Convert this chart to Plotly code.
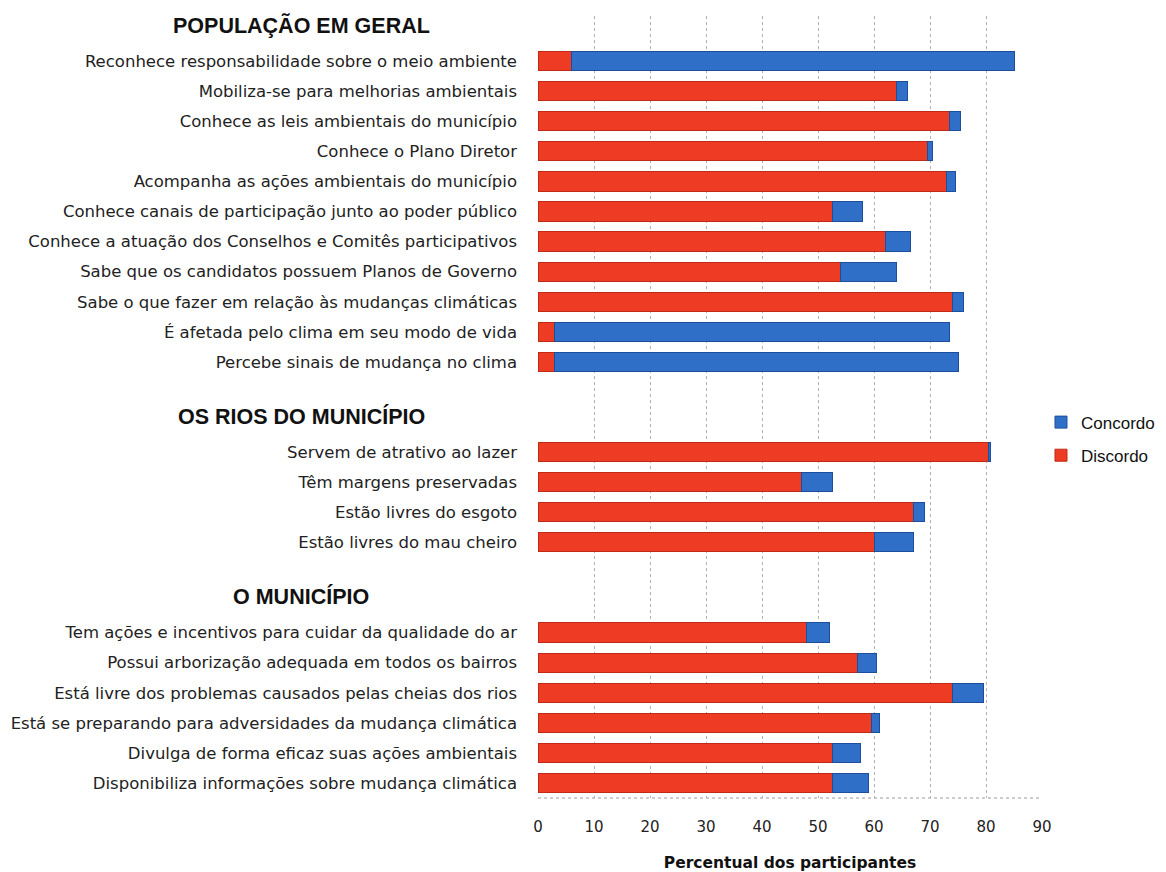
import plotly.graph_objects as go

# Section headers and how many statements each section holds
grupos = ["POPULAÇÃO EM GERAL", "OS RIOS DO MUNICÍPIO", "O MUNICÍPIO"]
grupo_tamanhos = [11, 4, 6]

categorias = [
    "Reconhece responsabilidade sobre o meio ambiente",
    "Mobiliza-se para melhorias ambientais",
    "Conhece as leis ambientais do município",
    "Conhece o Plano Diretor",
    "Acompanha as ações ambientais do município",
    "Conhece canais de participação junto ao poder público",
    "Conhece a atuação dos Conselhos e Comitês participativos",
    "Sabe que os candidatos possuem Planos de Governo",
    "Sabe o que fazer em relação às mudanças climáticas",
    "É afetada pelo clima em seu modo de vida",
    "Percebe sinais de mudança no clima",
    "Servem de atrativo ao lazer",
    "Têm margens preservadas",
    "Estão livres do esgoto",
    "Estão livres do mau cheiro",
    "Tem ações e incentivos para cuidar da qualidade do ar",
    "Possui arborização adequada em todos os bairros",
    "Está livre dos problemas causados pelas cheias dos rios",
    "Está se preparando para adversidades da mudança climática",
    "Divulga de forma eficaz suas ações ambientais",
    "Disponibiliza informações sobre mudança climática",
]
discordo = [6, 64, 73.5, 69.5, 73, 52.5, 62, 54, 74, 3, 3,
            80.5, 47, 67, 60,
            48, 57, 74, 59.5, 52.5, 52.5]
concordo = [79, 2, 2, 1, 1.5, 5.5, 4.5, 10, 2, 70.5, 72,
            0.3, 5.5, 2, 7,
            4, 3.5, 5.5, 1.5, 5, 6.5]
x_ticks = [0, 10, 20, 30, 40, 50, 60, 70, 80, 90]

# Row layout: header row, statement rows, blank spacer row between sections
y_pos, header_pos = [], []
slot = 0
for n in grupo_tamanhos:
    header_pos.append(slot)
    slot += 1
    for _ in range(n):
        y_pos.append(slot)
        slot += 1
    slot += 1
last_row = max(y_pos)

RED, RED_EDGE = "#ee3b24", "#c02a17"
BLUE, BLUE_EDGE = "#2f6fc8", "#1d4e9c"
LABEL_FONT = "DejaVu Sans, Verdana, sans-serif"

fig = go.Figure()
fig.add_trace(go.Bar(
    name="Discordo", y=y_pos, x=discordo, orientation="h",
    marker=dict(color=RED, line=dict(color=RED_EDGE, width=1)),
    width=0.64, legendgroup="d", legendrank=2,
))
fig.add_trace(go.Bar(
    name="Concordo", y=y_pos, x=concordo, orientation="h",
    marker=dict(color=BLUE, line=dict(color=BLUE_EDGE, width=1)),
    width=0.64, legendgroup="c", legendrank=1,
))

L, R, T, B = 538, 124, 16, 74
plot_w = 1166 - L - R
for g, p in zip(grupos, header_pos):
    fig.add_annotation(
        text=f"<b>{g}</b>", xref="paper", yref="y",
        x=(301 - L) / plot_w, y=p - 0.2, showarrow=False,
        xanchor="center", yanchor="middle",
        font=dict(family="Liberation Sans, Arial", size=21.5, color="#111111"),
    )

# dotted floor line along the bottom of the plot area
fig.add_shape(type="line", xref="paper", yref="paper", x0=0, x1=1, y0=0, y1=0,
              line=dict(color="#9a9a9a", width=1, dash="dot"))

fig.update_layout(
    width=1166, height=872,
    margin=dict(l=L, r=R, t=T, b=B, autoexpand=False),
    barmode="stack",
    paper_bgcolor="white", plot_bgcolor="white",
    font=dict(family=LABEL_FONT, color="#222222"),
    legend=dict(
        x=0.998, y=0.459, xanchor="left", yanchor="middle",
        traceorder="grouped",
        font=dict(family="Liberation Sans, Arial", size=17, color="#111111"),
        itemwidth=30, tracegroupgap=8,
    ),
    xaxis=dict(
        range=[0, 90], tickvals=x_ticks, showgrid=True,
        gridcolor="#b3b3b3", griddash="dot", gridwidth=1,
        zeroline=False, showline=False, automargin=False,
        tickfont=dict(size=15, color="#222222"), ticklabelstandoff=18,
        title=dict(text="<b>Percentual dos participantes</b>",
                   font=dict(size=15.5, color="#111111"), standoff=28),
    ),
    yaxis=dict(
        range=[last_row + 0.5, -0.5], tickvals=y_pos, ticktext=categorias,
        showgrid=False, zeroline=False, showline=False, automargin=False,
        tickfont=dict(size=16.5, color="#222222"), ticklabelstandoff=20,
    ),
)

fig.write_html("out.html")
